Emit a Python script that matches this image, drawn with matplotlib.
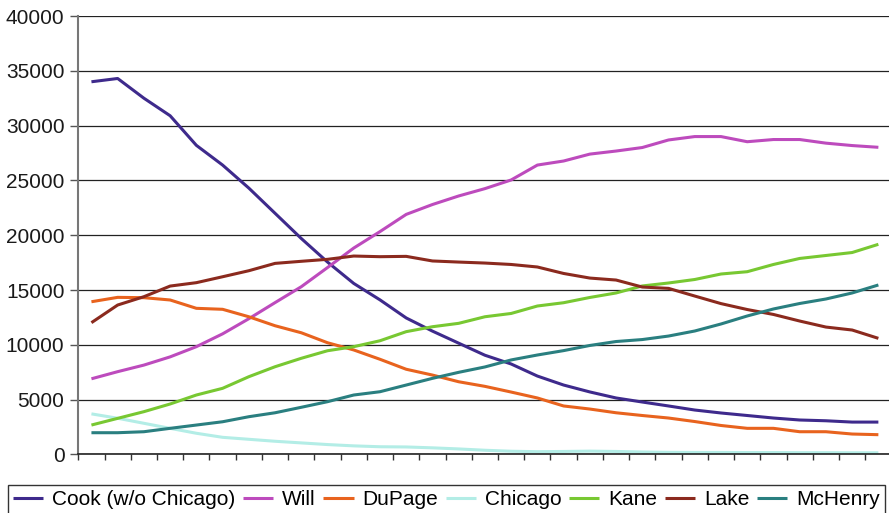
import numpy as np
import matplotlib.pyplot as plt

plt.rcParams['font.family'] = ['Liberation Sans', 'DejaVu Sans']

# yearly values per county (31 periods)
cook = [34000, 34300, 32500, 30900, 28200, 26400, 24300, 22000, 19700, 17550,
        15600, 14100, 12450, 11250, 10150, 9050, 8250, 7150, 6330, 5700,
        5150, 4780, 4420, 4050, 3780, 3550, 3320, 3140, 3070, 2950, 2950]
will = [6900, 7550, 8150, 8900, 9830, 11000, 12380, 13850, 15300, 17050,
        18830, 20330, 21900, 22800, 23580, 24250, 25040, 26400, 26770, 27400,
        27680, 28000, 28690, 29000, 29000, 28530, 28730, 28730, 28400, 28180, 28020]
dupage = [13930, 14330, 14300, 14090, 13330, 13240, 12560, 11740, 11100, 10190,
          9530, 8680, 7770, 7240, 6630, 6210, 5690, 5150, 4420, 4140,
          3800, 3550, 3320, 3000, 2640, 2380, 2380, 2070, 2070, 1860, 1800]
chicago = [3700, 3300, 2840, 2380, 1930, 1560, 1380, 1200, 1050, 900,
           780, 700, 680, 600, 500, 380, 290, 250, 270, 300,
           270, 220, 190, 180, 180, 170, 170, 160, 160, 150, 150]
kane = [2680, 3290, 3900, 4600, 5420, 6030, 7090, 8000, 8770, 9460,
        9830, 10370, 11200, 11650, 11960, 12560, 12860, 13540, 13840, 14320,
        14730, 15370, 15640, 15960, 16460, 16670, 17330, 17880, 18150, 18420, 19170]
lake = [12020, 13630, 14390, 15360, 15670, 16210, 16760, 17430, 17620, 17800,
        18100, 18040, 18070, 17650, 17550, 17460, 17330, 17100, 16510, 16090,
        15910, 15270, 15150, 14450, 13760, 13220, 12770, 12170, 11620, 11350, 10590]
mchenry = [1980, 1980, 2070, 2380, 2680, 2980, 3440, 3800, 4300, 4810,
           5420, 5720, 6330, 6940, 7490, 7980, 8620, 9070, 9470, 9940,
           10300, 10480, 10800, 11260, 11900, 12630, 13270, 13770, 14180, 14730, 15460]

names = ['Cook (w/o Chicago)', 'Will', 'DuPage', 'Chicago', 'Kane', 'Lake', 'McHenry']
series = [cook, will, dupage, chicago, kane, lake, mchenry]
colors = ['#3e2a8c', '#bd4bbd', '#e8631e', '#b3ede6', '#78c832', '#8b2a1e', '#2a7f80']

fig = plt.figure(figsize=(8.89, 5.13), dpi=100)
ax = fig.add_axes([0.0881, 0.1142, 0.9147, 0.8546])

x = np.arange(len(cook))
for vals, name, c in zip(series, names, colors):
    ax.plot(x, vals, color=c, lw=2.2, label=name, solid_capstyle='butt')

ax.set_xlim(-0.5, len(cook) - 0.5)
ax.set_ylim(0, 40000)
ax.set_yticks(np.arange(0, 40001, 5000))
ax.yaxis.grid(True, color='#222222', lw=0.9)
ax.set_axisbelow(True)

# category ticks sit between the points, no labels
ax.set_xticks(np.arange(-0.5, len(cook), 1))
ax.set_xticklabels([])
ax.tick_params(axis='x', length=4, width=1, direction='out', color='#333333')
ax.tick_params(axis='y', length=6, width=1, direction='out', color='#555555',
               labelsize=15, pad=4, labelcolor='#1a1a1a')

for side in ['top', 'right']:
    ax.spines[side].set_visible(False)
ax.spines['left'].set_color('#777777')
ax.spines['left'].set_linewidth(1.5)
ax.spines['bottom'].set_color('#222222')
ax.spines['bottom'].set_linewidth(1.2)

leg = fig.legend(loc='upper left', bbox_to_anchor=(8 / 889, 1 - 485 / 513),
                 ncol=7, fontsize=15, frameon=True, fancybox=False,
                 edgecolor='black', borderpad=0.25, borderaxespad=0,
                 handlelength=1.45, handletextpad=0.43, columnspacing=0.36)
leg.get_frame().set_linewidth(1.0)

fig.savefig('out.png', dpi=100)
